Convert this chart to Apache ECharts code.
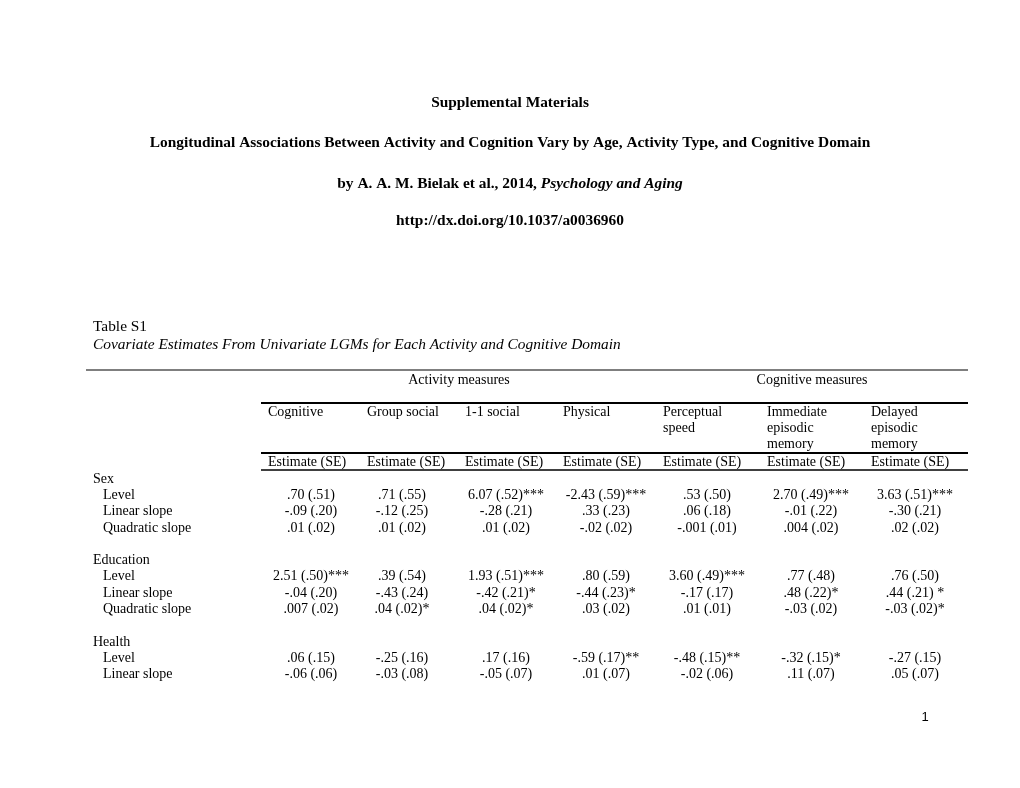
<!DOCTYPE html>
<html>
<head>
<meta charset="utf-8">
<script src="https://cdn.jsdelivr.net/npm/echarts@6/dist/echarts.min.js"></script>
<style>
html,body{margin:0;padding:0;background:#fff;}
#chart{width:1020px;height:788px;}
</style>
</head>
<body>
<div id="chart"></div>
<script>
// ---- Data ----
const headingLines = ['Supplemental Materials',
  'Longitudinal Associations Between Activity and Cognition Vary by Age, Activity Type, and Cognitive Domain'];
const authorLine = 'by A. A. M. Bielak et al., 2014, ';
const journal = 'Psychology and Aging';
const doi = 'http://dx.doi.org/10.1037/a0036960';
const tableNumber = 'Table S1';
const tableCaption = 'Covariate Estimates From Univariate LGMs for Each Activity and Cognitive Domain';
const spanners = ['Activity measures', 'Cognitive measures'];
const columnHeaders = [
  ['Cognitive'], ['Group social'], ['1-1 social'], ['Physical'],
  ['Perceptual', 'speed'], ['Immediate', 'episodic', 'memory'], ['Delayed', 'episodic', 'memory']
];
const subHeader = 'Estimate (SE)';
const covariates = ['Sex', 'Education', 'Health'];
const effects = [
  ['Level', 'Linear slope', 'Quadratic slope'],
  ['Level', 'Linear slope', 'Quadratic slope'],
  ['Level', 'Linear slope']
];
const cognitiveAct = ['.70 (.51)', '-.09 (.20)', '.01 (.02)', '2.51 (.50)***', '-.04 (.20)', '.007 (.02)', '.06 (.15)', '-.06 (.06)'];
const groupSocial  = ['.71 (.55)', '-.12 (.25)', '.01 (.02)', '.39 (.54)', '-.43 (.24)', '.04 (.02)*', '-.25 (.16)', '-.03 (.08)'];
const oneOneSocial = ['6.07 (.52)***', '-.28 (.21)', '.01 (.02)', '1.93 (.51)***', '-.42 (.21)*', '.04 (.02)*', '.17 (.16)', '-.05 (.07)'];
const physical     = ['-2.43 (.59)***', '.33 (.23)', '-.02 (.02)', '.80 (.59)', '-.44 (.23)*', '.03 (.02)', '-.59 (.17)**', '.01 (.07)'];
const perceptual   = ['.53 (.50)', '.06 (.18)', '-.001 (.01)', '3.60 (.49)***', '-.17 (.17)', '.01 (.01)', '-.48 (.15)**', '-.02 (.06)'];
const immediateEM  = ['2.70 (.49)***', '-.01 (.22)', '.004 (.02)', '.77 (.48)', '.48 (.22)*', '-.03 (.02)', '-.32 (.15)*', '.11 (.07)'];
const delayedEM    = ['3.63 (.51)***', '-.30 (.21)', '.02 (.02)', '.76 (.50)', '.44 (.21) *', '-.03 (.02)*', '-.27 (.15)', '.05 (.07)'];
const pageNumber = '1';

// ---- Layout ----
const seriesCols = [cognitiveAct, groupSocial, oneOneSocial, physical, perceptual, immediateEM, delayedEM];
const SERIF = '"Liberation Serif", "Times New Roman", serif';
const FS = 14;
const FS_BIG = 15.4;
const colLeft = [268, 367, 465, 563, 663, 767, 871];
const colCenter = [311, 402, 506, 606, 707, 811, 915];
const lineH = 16.3;
const els = [];
function txt(x, y, s, opt) {
  opt = opt || {};
  els.push({
    type: 'text', x: x, y: y, silent: true,
    style: {
      text: s, fill: '#000', font: (opt.style || '') + ' ' + (opt.weight || 'normal') + ' ' + (opt.size || FS) + 'px ' + SERIF,
      textAlign: opt.align || 'left', textVerticalAlign: 'middle'
    }
  });
}
function rule(x1, x2, y, w) {
  els.push({ type: 'line', silent: true, shape: { x1: x1, y1: y, x2: x2, y2: y }, style: { stroke: '#000', lineWidth: w } });
}

txt(510, 103, headingLines[0], { weight: 'bold', align: 'center', size: FS_BIG });
txt(510, 143, headingLines[1], { weight: 'bold', align: 'center', size: FS_BIG });
els.push({
  type: 'text', x: 510, y: 184, silent: true,
  style: {
    text: '{b|' + authorLine + '}{bi|' + journal + '}',
    textAlign: 'center', textVerticalAlign: 'middle',
    rich: {
      b: { font: 'bold ' + FS_BIG + 'px ' + SERIF, fill: '#000' },
      bi: { font: 'italic bold ' + FS_BIG + 'px ' + SERIF, fill: '#000' }
    }
  }
});
txt(510, 221, doi, { weight: 'bold', align: 'center', size: FS_BIG });

txt(93, 327, tableNumber, { size: FS_BIG });
txt(93, 345, tableCaption, { style: 'italic', size: FS_BIG });

rule(86, 968, 370, 1.2);
txt(459, 380, spanners[0], { align: 'center' });
txt(812, 380, spanners[1], { align: 'center' });
rule(261, 968, 403, 2);
columnHeaders.forEach(function (lines, c) {
  lines.forEach(function (s, k) { txt(colLeft[c], 412 + k * lineH, s); });
});
rule(261, 968, 453, 2);
colLeft.forEach(function (x) { txt(x, 462, subHeader); });
rule(261, 968, 470, 1.5);

let rowIdx = 0, line = 0;
covariates.forEach(function (cov, g) {
  txt(93, 479 + line * lineH, cov); line++;
  effects[g].forEach(function (eff) {
    const y = 479 + line * lineH;
    txt(103, y, eff);
    seriesCols.forEach(function (col, c) { txt(colCenter[c], y, col[rowIdx], { align: 'center' }); });
    rowIdx++; line++;
  });
  line++;
});

els.push({ type: 'text', x: 925, y: 717, silent: true,
  style: { text: pageNumber, font: '13px "Liberation Sans", "Noto Sans", sans-serif', fill: '#000', textAlign: 'center', textVerticalAlign: 'middle' } });

const chart = echarts.init(document.getElementById('chart'), null, { renderer: 'canvas' });
chart.setOption({ backgroundColor: '#fff', animation: false, graphic: { elements: els } });
</script>
</body>
</html>
